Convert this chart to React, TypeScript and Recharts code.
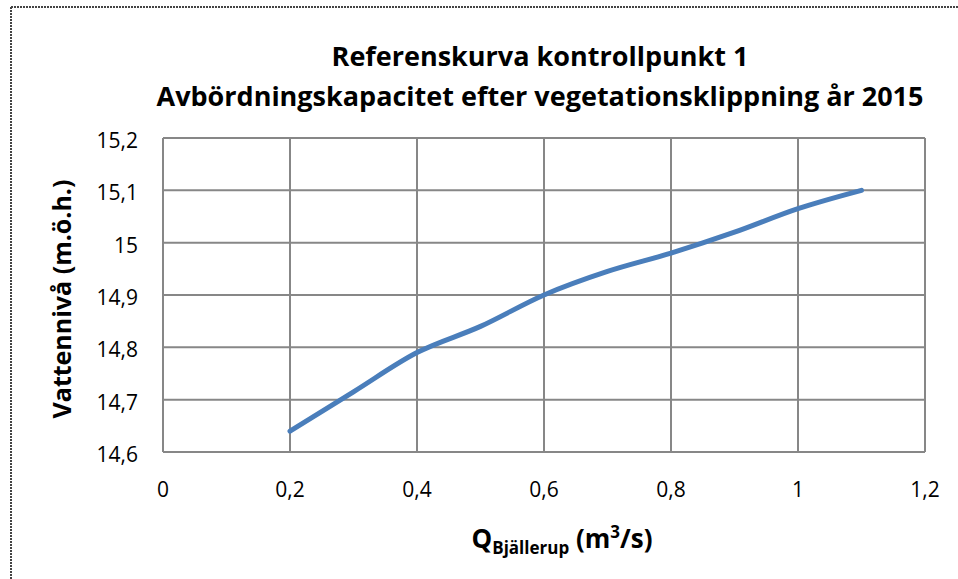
import { CartesianGrid, Line, LineChart, XAxis, YAxis } from "recharts"

// Avbördning (m3/s) och vattennivå (m.ö.h.) avlästa ur referenskurvan
const flow = [0.2, 0.3, 0.4, 0.5, 0.6, 0.7, 0.8, 0.9, 1.0, 1.1]
const level = [14.64, 14.715, 14.79, 14.84, 14.9, 14.945, 14.98, 15.02, 15.065, 15.1]

const xTicks = [0, 0.2, 0.4, 0.6, 0.8, 1, 1.2]
const yTicks = [14.6, 14.7, 14.8, 14.9, 15, 15.1, 15.2]

const titleLines = ["Referenskurva kontrollpunkt 1", "Avbördningskapacitet efter vegetationsklippning år 2015"]

const data = flow.map((q, i) => ({ q, h: level[i] }))

const fmt = (v: number) => String(v).replace(".", ",")
const FONT = "'Open Sans', sans-serif"
const GRID = "#878787"

function YTick(props: any) {
  const { x, y, payload } = props
  return (
    <text x={x} y={y + 10} textAnchor="end" fontFamily={FONT} fontSize={21} fill="#000">
      {fmt(payload.value)}
    </text>
  )
}

function XTick(props: any) {
  const { x, y, payload } = props
  return (
    <text x={x} y={y + 15} textAnchor="middle" fontFamily={FONT} fontSize={21} fill="#000">
      {fmt(payload.value)}
    </text>
  )
}

export default function App() {
  return (
    <div style={{ position: "fixed", left: 0, top: 0, width: 958, height: 579, background: "#fff" }}>
      <LineChart width={958} height={579} data={data} margin={{ top: 138, right: 33, bottom: 67, left: 103 }}>
        <CartesianGrid stroke={GRID} strokeWidth={2} />
        <XAxis
          dataKey="q"
          type="number"
          domain={[0, 1.2]}
          ticks={xTicks}
          height={60}
          tickSize={0}
          tickMargin={30}
          tickLine={false}
          axisLine={{ stroke: GRID, strokeWidth: 2 }}
          tick={<XTick />}
          interval={0}
        />
        <YAxis
          type="number"
          domain={[14.6, 15.2]}
          ticks={yTicks}
          width={60}
          tickSize={0}
          tickMargin={25}
          tickLine={false}
          axisLine={{ stroke: GRID, strokeWidth: 2 }}
          tick={<YTick />}
          interval={0}
        />
        <Line
          type="monotone"
          dataKey="h"
          stroke="#4A7EBB"
          strokeWidth={5}
          dot={false}
          strokeLinecap="round"
          isAnimationActive={false}
        />
      </LineChart>
      <svg
        width={958}
        height={579}
        style={{ position: "absolute", left: 0, top: 0, pointerEvents: "none" }}
      >
        <line x1={11} y1={7} x2={958} y2={7} stroke="#444" strokeWidth={2} strokeDasharray="2 1" />
        <line x1={11} y1={7} x2={11} y2={579} stroke="#444" strokeWidth={2} strokeDasharray="2 1" />
        <text x={540} y={66} textAnchor="middle" fontFamily={FONT} fontWeight="bold" fontSize={27} fill="#000">
          {titleLines[0]}
        </text>
        <text x={540} y={106} textAnchor="middle" fontFamily={FONT} fontWeight="bold" fontSize={27} fill="#000">
          {titleLines[1]}
        </text>
        <text
          x={71}
          y={299}
          transform="rotate(-90, 71, 299)"
          textAnchor="middle"
          fontFamily={FONT}
          fontWeight="bold"
          fontSize={25}
          fill="#000"
        >
          Vattennivå (m.ö.h.)
        </text>
        <text x={562} y={548} textAnchor="middle" fontFamily={FONT} fontWeight="bold" fontSize={26} fill="#000">
          Q
          <tspan fontSize={17} dy={6}>Bjällerup</tspan>
          <tspan dy={-6}> (m</tspan>
          <tspan fontSize={17} dy={-10}>3</tspan>
          <tspan dy={10}>/s)</tspan>
        </text>
      </svg>
    </div>
  )
}
